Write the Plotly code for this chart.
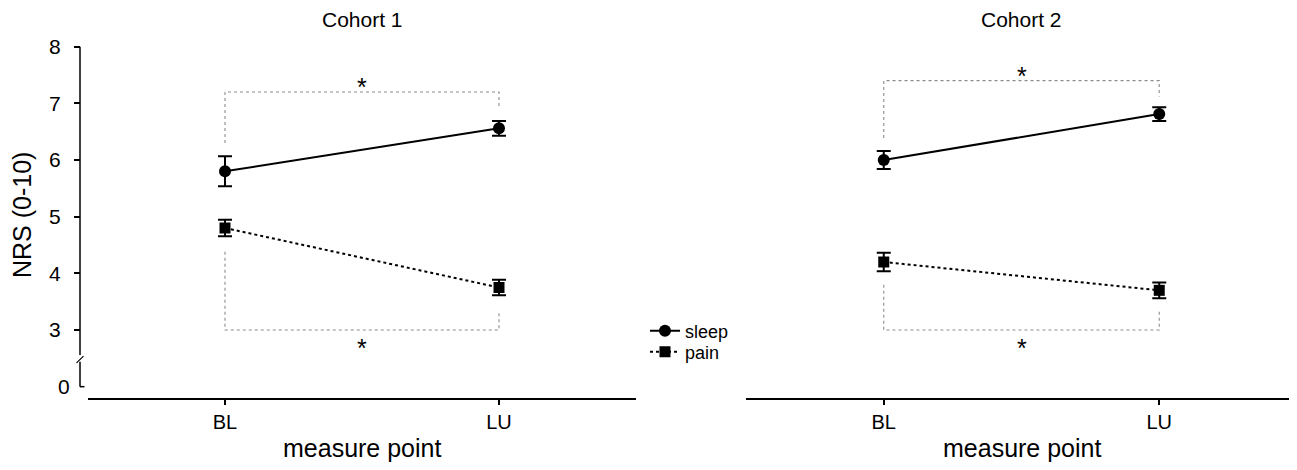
import plotly.graph_objects as go

# ---- data ----
time_points = ["BL", "LU"]
x_pos = [0, 1]
cohort_names = ["Cohort 1", "Cohort 2"]

c1_sleep = [5.80, 6.56]
c1_sleep_err = [0.265, 0.13]
c1_pain = [4.80, 3.75]
c1_pain_err = [0.145, 0.135]

c2_sleep = [6.00, 6.81]
c2_sleep_err = [0.16, 0.12]
c2_pain = [4.20, 3.70]
c2_pain_err = [0.165, 0.14]

y_tick_vals = [3, 4, 5, 6, 7, 8]
y_break_label_val = 2      # position of the "0" label below the axis break
y_break_label = "0"

# significance brackets: (level, left leg end, right leg end, asterisk level)
c1_top_bracket = (7.20, 6.30, 6.95, 7.39)
c1_bot_bracket = (3.00, 4.38, 3.30, 2.78)
c2_top_bracket = (7.40, 6.39, 7.12, 7.59)
c2_bot_bracket = (3.00, 3.80, 3.32, 2.78)

OFF = 8                       # page body margin
W, H = 1297 - OFF, 470 - OFF
PLOT_TOP, PLOT_BOT = 41, 398  # page pixels
MT, MB = PLOT_TOP - OFF, 470 - PLOT_BOT
Y_RANGE = [1.8, 8.1]

def px(xp):
    """page x pixel -> paper fraction"""
    return (xp - OFF) / W

def py(yp):
    """page y pixel -> paper fraction"""
    return (PLOT_BOT - yp) / (PLOT_BOT - PLOT_TOP)

fig = go.Figure()

panels = [
    ("x", c1_sleep, c1_sleep_err, c1_pain, c1_pain_err, c1_top_bracket, c1_bot_bracket, True),
    ("x2", c2_sleep, c2_sleep_err, c2_pain, c2_pain_err, c2_top_bracket, c2_bot_bracket, False),
]

for xa, sl, sle, pa, pae, tb, bb, show in panels:
    for lvl, l_end, r_end, _ in (tb, bb):
        fig.add_trace(go.Scatter(
            x=[x_pos[0], x_pos[0], x_pos[1], x_pos[1]],
            y=[l_end, lvl, lvl, r_end],
            mode="lines", line=dict(color="#8c8c8c", width=1.1, dash="dot"),
            xaxis=xa, yaxis="y", showlegend=False, hoverinfo="skip"))
    fig.add_trace(go.Scatter(
        x=x_pos, y=sl, name="sleep", mode="lines+markers",
        line=dict(color="black", width=2),
        marker=dict(symbol="circle", size=12, color="black"),
        error_y=dict(type="data", array=sle, visible=True, color="black", thickness=2, width=7),
        xaxis=xa, yaxis="y", showlegend=show, legend="legend"))
    fig.add_trace(go.Scatter(
        x=x_pos, y=pa, name="pain", mode="lines+markers",
        line=dict(color="black", width=2, dash="dot"),
        marker=dict(symbol="square", size=11, color="black"),
        error_y=dict(type="data", array=pae, visible=True, color="black", thickness=2, width=7),
        xaxis=xa, yaxis="y", showlegend=show, legend="legend2"))
    for lvl, _, _, ast in (tb, bb):
        fig.add_annotation(x=0.5, y=ast, xref=xa, yref="y", text="*",
                           showarrow=False, font=dict(size=25, color="black"),
                           yshift=-6)

axis_common = dict(range=[-0.5, 1.5], tickvals=x_pos, ticktext=time_points,
                   showline=True, linewidth=2, linecolor="black",
                   ticks="outside", ticklen=5, tickwidth=2, tickcolor="black",
                   showgrid=False, zeroline=False, anchor="y",
                   tickfont=dict(size=20, color="black"), automargin=False)

legend_common = dict(xanchor="left", yanchor="middle", bgcolor="rgba(0,0,0,0)",
                     font=dict(size=18, color="black"), itemwidth=30)

fig.update_layout(
    width=W, height=H,
    margin=dict(l=0, r=0, t=MT, b=MB, pad=0),
    template="none",
    paper_bgcolor="white", plot_bgcolor="white",
    font=dict(family="Liberation Sans, Arial, sans-serif", color="black"),
    xaxis=dict(domain=[px(88), px(636)], **axis_common),
    xaxis2=dict(domain=[px(746), px(1297)], **axis_common),
    yaxis=dict(range=Y_RANGE, anchor="free", position=px(80),
               tickvals=y_tick_vals, ticks="outside", ticklen=6, tickwidth=1.5,
               tickcolor="black", showline=False, showgrid=False, zeroline=False,
               ticklabelstandoff=9,
               tickfont=dict(size=21, color="black"), automargin=False),
    legend=dict(x=px(645), y=py(331), **legend_common),
    legend2=dict(x=px(645), y=py(352), **legend_common),
    showlegend=True,
)

# y axis line with a break
axx = px(80)
fig.add_shape(type="line", xref="paper", yref="y", x0=axx, x1=axx, y0=8.0, y1=2.56,
              line=dict(color="black", width=1.5))
fig.add_shape(type="line", xref="paper", yref="y", x0=px(76.5), x1=px(83.5), y0=2.42, y1=2.54,
              line=dict(color="black", width=1.2))
fig.add_shape(type="line", xref="paper", yref="y", x0=axx, x1=axx, y0=2.44, y1=y_break_label_val,
              line=dict(color="black", width=1.5))
fig.add_shape(type="line", xref="paper", yref="y", x0=axx, x1=px(84.5), y0=y_break_label_val,
              y1=y_break_label_val, line=dict(color="black", width=1.5))
fig.add_annotation(x=px(72), y=y_break_label_val, xref="paper", yref="y", text=y_break_label,
                   showarrow=False, xanchor="right", yanchor="middle",
                   font=dict(size=21, color="black"))

# panel titles and x-axis titles
for xa, name in zip(["x", "x2"], cohort_names):
    fig.add_annotation(x=0.5, y=py(20), xref=xa + " domain", yref="paper",
                       text=name, showarrow=False, yanchor="middle",
                       font=dict(size=21, color="black"))
    fig.add_annotation(x=0.5, y=py(448), xref=xa + " domain", yref="paper",
                       text="measure point", showarrow=False, yanchor="middle",
                       font=dict(size=25, color="black"))

fig.add_annotation(x=px(22), y=py(215), xref="paper", yref="paper",
                   text="NRS (0-10)", textangle=-90, showarrow=False,
                   xanchor="center", yanchor="middle",
                   font=dict(size=25, color="black"))

fig.write_html("out.html")
